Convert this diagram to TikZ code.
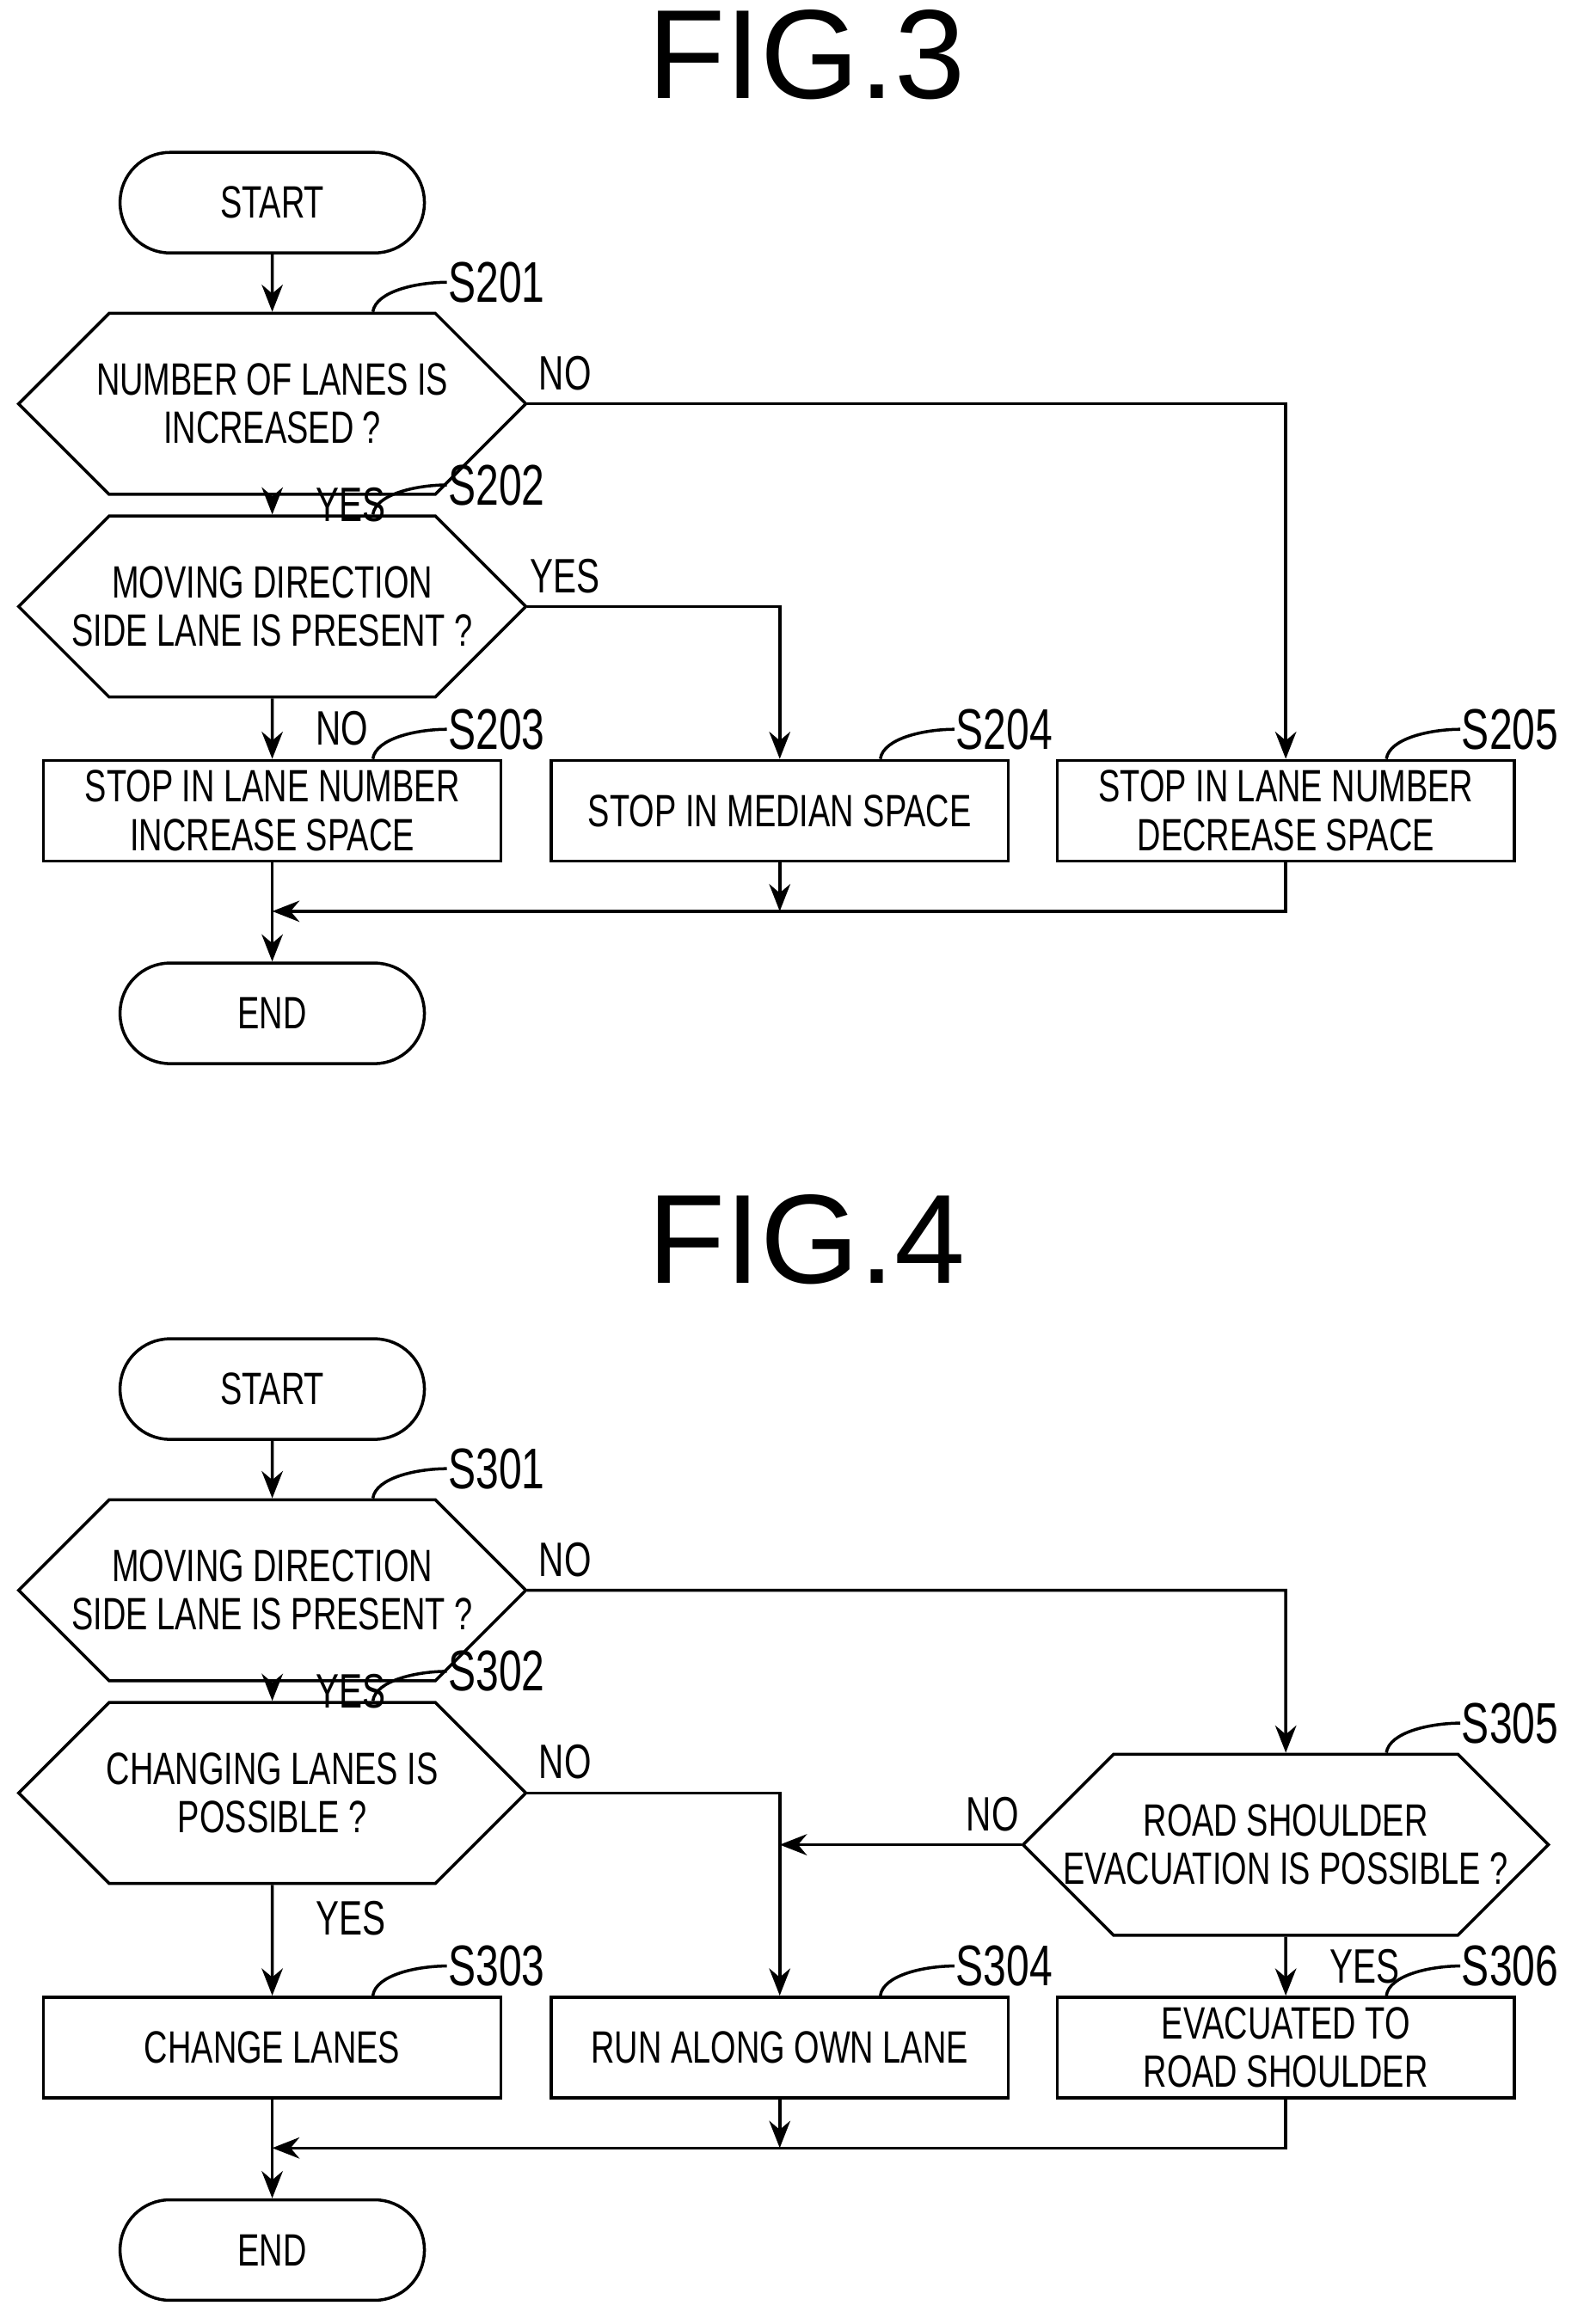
\documentclass[tikz,border=0pt]{standalone}
\usepackage{fontspec}
\setmainfont{Liberation Sans}
\newfontfamily\boxfont[FakeStretch=0.72]{Liberation Sans}
\usetikzlibrary{shapes.misc,arrows.meta,calc}

\tikzset{
  every node/.style={font=\boxfont\fontsize{15}{16}\selectfont, align=center, inner sep=0pt},
  terminal/.style={draw, line width=1pt, rounded corners=0.58cm, minimum width=3.54cm, minimum height=1.17cm},
  process/.style={draw, line width=1pt, minimum width=5.32cm, minimum height=1.17cm},
  decision/.style={draw, line width=1pt, chamfered rectangle, chamfered rectangle xsep=0.57cm,
    chamfered rectangle ysep=0.585cm, minimum width=5.9cm, minimum height=1.17cm},
  flow/.style={line width=1pt, -{Stealth[length=9pt,width=7pt]}},
  line/.style={line width=1pt},
  answer/.style={font=\boxfont\fontsize{16}{17}\selectfont},
  steptag/.style={font=\boxfont\fontsize{19}{20}\selectfont, anchor=west},
  figtitle/.style={font=\fontsize{42}{44}\selectfont}
}
\newcommand{\steptag}[3]{% node, text, x offset of leader
  \draw[line] ($(#1.north)+(#3,0)$) .. controls +(2,-14) and +(-20,0) .. ($(#1.north)+(#3+50,-20)$)
    node[steptag] {#2};}

\begin{document}
\begin{tikzpicture}[x=0.017206cm, y=-0.017206cm]
\useasboundingbox (0,0) rectangle (1070,1571);

% FIG.3
\node[figtitle] (fig3) at (545,37) {FIG.3};
\node[terminal] (start3) at (184,137) {START};
\node[decision] (s201) at (184,273) {NUMBER OF LANES IS\\INCREASED ?};
\node[decision] (s202) at (184,410) {MOVING DIRECTION\\SIDE LANE IS PRESENT ?};
\node[process] (s203) at (184,548) {STOP IN LANE NUMBER\\INCREASE SPACE};
\node[process] (s204) at (527,548) {STOP IN MEDIAN SPACE};
\node[process] (s205) at (869,548) {STOP IN LANE NUMBER\\DECREASE SPACE};
\node[terminal] (end3) at (184,685) {END};
\coordinate (m3) at (184,616);
\coordinate (j3) at (527,616);

\steptag{s201}{S201}{68}
\steptag{s202}{S202}{68}
\steptag{s203}{S203}{68}
\steptag{s204}{S204}{68}
\steptag{s205}{S205}{68}

\draw[flow] (start3) -- (s201);
\draw[flow] (s201) -- node[answer, anchor=west, xshift=14pt] {YES} (s202);
\draw[flow] (s202) -- node[answer, anchor=west, xshift=14pt] {NO} (s203);
\draw[flow] (s201.east) -- node[answer, pos=0.05, above=4pt] {NO} (s201.east -| s205) -- (s205);
\draw[flow] (s202.east) -- node[answer, pos=0.15, above=4pt] {YES} (s202.east -| s204) -- (s204);
\draw[flow] (s203) -- (end3);
\draw[flow] (s205.south) |- (m3);
\draw[flow] (s204) -- (j3);

% FIG.4
\node[figtitle] (fig4) at (545,838) {FIG.4};
\node[terminal] (start4) at (184,939) {START};
\node[decision] (s301) at (184,1075) {MOVING DIRECTION\\SIDE LANE IS PRESENT ?};
\node[decision] (s302) at (184,1212) {CHANGING LANES IS\\POSSIBLE ?};
\node[process] (s303) at (184,1384) {CHANGE LANES};
\node[process] (s304) at (527,1384) {RUN ALONG OWN LANE};
\node[decision] (s305) at (869,1247) {ROAD SHOULDER\\EVACUATION IS POSSIBLE ?};
\node[process] (s306) at (869,1384) {EVACUATED TO\\ROAD SHOULDER};
\node[terminal] (end4) at (184,1521) {END};
\coordinate (m4) at (184,1452);
\coordinate (j4) at (527,1452);
\coordinate (k4) at (527,1247);

\steptag{s301}{S301}{68}
\steptag{s302}{S302}{68}
\steptag{s303}{S303}{68}
\steptag{s304}{S304}{68}
\steptag{s305}{S305}{68}
\steptag{s306}{S306}{68}

\draw[flow] (start4) -- (s301);
\draw[flow] (s301) -- node[answer, anchor=west, xshift=14pt] {YES} (s302);
\draw[flow] (s302) -- node[answer, pos=0.3, anchor=west, xshift=14pt] {YES} (s303);
\draw[flow] (s301.east) -- node[answer, pos=0.05, above=4pt] {NO} (s301.east -| s305) -- (s305);
\draw[flow] (s302.east) -- node[answer, pos=0.15, above=4pt] {NO} (s302.east -| s304) -- (s304);
\draw[flow] (s305.west) -- node[answer, pos=0.12, above=4pt] {NO} (k4);
\draw[flow] (s305) -- node[answer, anchor=west, xshift=14pt] {YES} (s306);
\draw[flow] (s303) -- (end4);
\draw[flow] (s306.south) |- (m4);
\draw[flow] (s304) -- (j4);
\end{tikzpicture}
\end{document}
